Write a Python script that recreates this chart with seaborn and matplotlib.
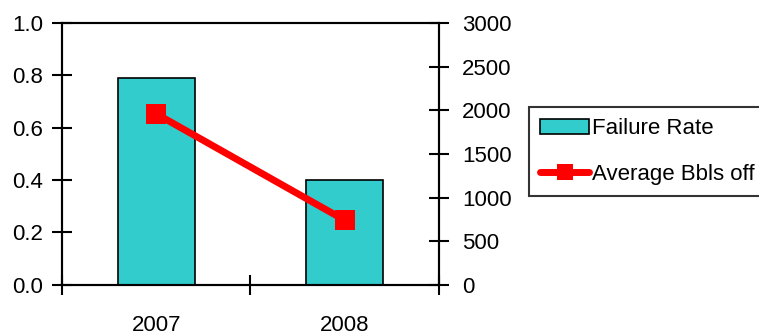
import matplotlib
matplotlib.use("Agg")
import matplotlib.pyplot as plt
import seaborn as sns
import pandas as pd
from matplotlib.patches import Patch
from matplotlib.lines import Line2D

years = ["2007", "2008"]
failure_rate = [0.79, 0.40]
avg_bbls_off = [1960, 740]
left_ticks = [0.0, 0.2, 0.4, 0.6, 0.8, 1.0]
right_ticks = [0, 500, 1000, 1500, 2000, 2500, 3000]

TEAL = "#33CCCC"
RED = "#FF0000"

sns.set_theme(style="white")
plt.rcParams["font.family"] = ["Liberation Sans", "DejaVu Sans"]
plt.rcParams["font.size"] = 16
plt.rcParams["text.color"] = "black"
plt.rcParams["xtick.color"] = "black"
plt.rcParams["ytick.color"] = "black"
plt.rcParams["xtick.labelcolor"] = "black"
plt.rcParams["ytick.labelcolor"] = "black"

df = pd.DataFrame({"year": years, "rate": failure_rate, "bbls": avg_bbls_off})

fig = plt.figure(figsize=(7.59, 3.35), dpi=100)
ax = fig.add_axes([0.0817, 0.150, 0.4966, 0.781])

sns.barplot(data=df, x="year", y="rate", ax=ax, color=TEAL, width=0.41,
            edgecolor="black", linewidth=1.2, saturation=1)
ax.set_ylim(0, 1.0)
ax.set_xlim(-0.5, 1.5)
ax.set_yticks(left_ticks)
ax.set_yticklabels([f"{v:.1f}" for v in left_ticks])
ax.set_xlabel("")
ax.set_ylabel("")

ax2 = ax.twinx()
sns.lineplot(x=[0, 1], y=df["bbls"], ax=ax2, color=RED, linewidth=5,
             marker="s", markersize=15, markeredgewidth=0)
ax2.set_ylim(0, 3000)
ax2.set_yticks(right_ticks)
ax2.set_yticklabels([str(v) for v in right_ticks])
ax2.set_xlim(-0.5, 1.5)
ax2.set_ylabel("")

# category labels without ticks, boundary ticks without labels
ax.set_xticks([-0.5, 0.5, 1.5], minor=False)
ax.set_xticklabels(["", "", ""])
ax.set_xticks([0, 1], minor=True)
ax.set_xticklabels(years, minor=True)
ax.tick_params(axis="x", which="major", direction="inout", length=15,
               width=1.5, color="black", bottom=True)
ax.tick_params(axis="x", which="minor", length=0, pad=22, labelsize=16,
               bottom=True, labelcolor="black")
ax.tick_params(axis="y", direction="inout", length=15, width=1.5,
               color="black", left=True, pad=6, labelsize=16,
               labelcolor="black")
ax2.tick_params(axis="y", direction="inout", length=15, width=1.5,
                color="black", right=True, pad=9, labelsize=16,
                labelcolor="black")

for a in (ax, ax2):
    for s in a.spines.values():
        s.set_color("black")
        s.set_linewidth(1.5)

handles = [
    Patch(facecolor=TEAL, edgecolor="black", linewidth=1.2, label="Failure Rate"),
    Line2D([0], [0], color=RED, linewidth=5, marker="s", markersize=11,
           markeredgewidth=0, label="Average Bbls off"),
]
leg = fig.legend(handles=handles, loc="upper left",
                 bbox_to_anchor=(0.697, 0.68), frameon=True, fancybox=False,
                 edgecolor="black", fontsize=16, handlelength=2.2,
                 handletextpad=0.15, borderpad=0.5, labelspacing=1.1,
                 borderaxespad=0)
leg.get_frame().set_linewidth(1.5)
for t in leg.get_texts():
    t.set_color("black")

fig.savefig("out.png", dpi=100)
